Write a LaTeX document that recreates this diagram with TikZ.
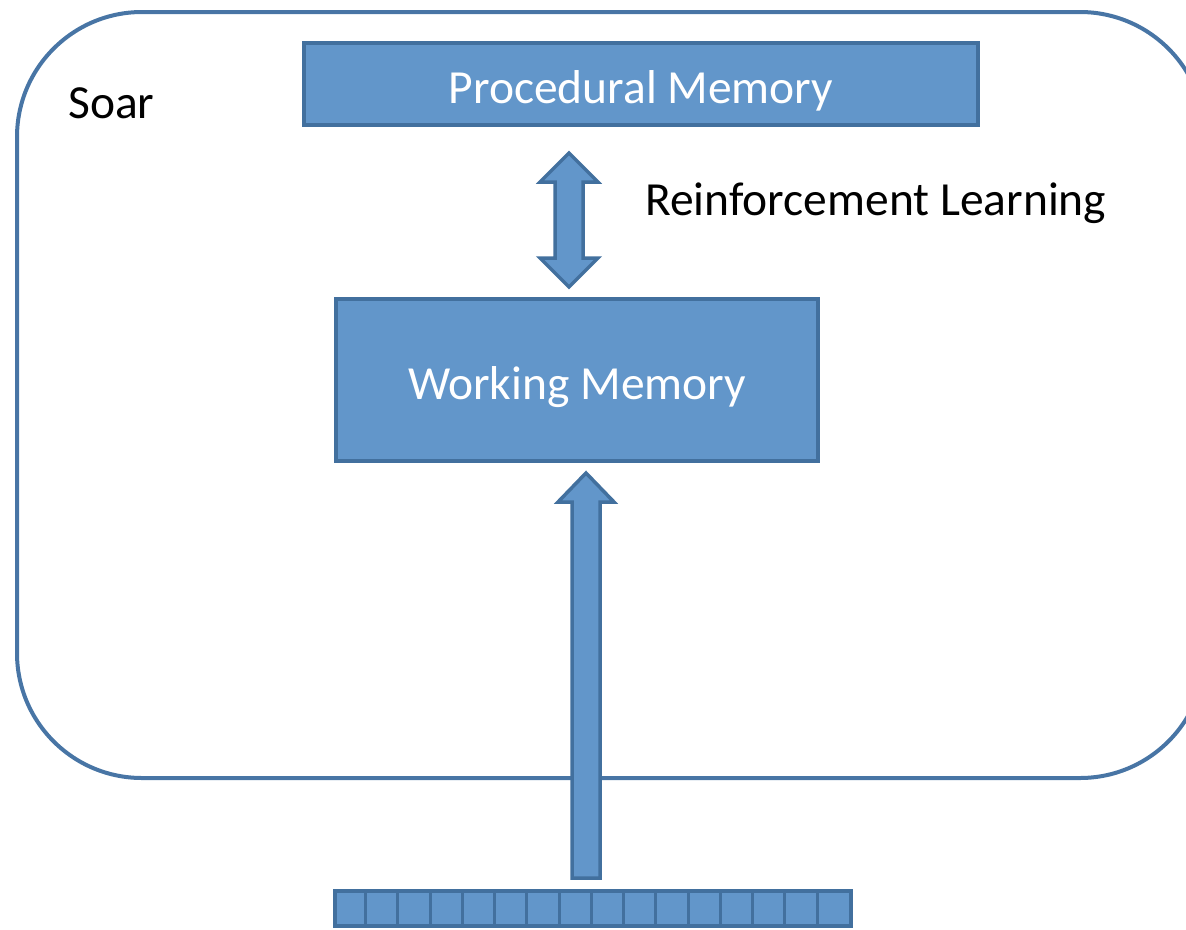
\documentclass[tikz,border=0pt]{standalone}
\usepackage{fontspec}
\setmainfont{Carlito}
\usetikzlibrary{calc}
\definecolor{boxfill}{RGB}{98,150,202}
\definecolor{boxline}{RGB}{66,112,158}
\definecolor{frameline}{RGB}{72,117,165}
\begin{document}
\begin{tikzpicture}[x=1pt,y=-1pt,
  membox/.style={draw=boxline, line width=3.5pt, fill=boxfill, text=white,
    font=\fontsize{47.5}{56}\selectfont, inner sep=0pt,
    text height=38pt, text depth=0pt},
  blockarrow/.style={draw=boxline, line width=3.5pt, fill=boxfill, line join=miter},
  plainlabel/.style={font=\fontsize{47.5}{56}\selectfont, inner sep=0pt},
  cellline/.style={boxline, line width=3pt}]
\useasboundingbox (0,0) rectangle (1186,929);

% outer system frame (runs past the right edge)
\begin{scope}
  \clip (0,0) rectangle (1186,929);
  \draw[frameline, line width=4pt, rounded corners=125pt] (17,12) rectangle (1205,778);
\end{scope}

\node[plainlabel, anchor=base west] (soar) at (68,118) {Soar};

% memories
\node[membox, minimum width=674pt, minimum height=82pt] (pm) at (641,84) {Procedural Memory};
\node[membox, minimum width=482pt, minimum height=162pt] (wm) at (577,380) {Working Memory};

% learning link between the memories
\coordinate (rltop) at (569,153);
\coordinate (rlbot) at (569,287);
\draw[blockarrow] (rltop) -- ++(29,29) -- ++(-15,0) -- ++(0,76) -- ++(15,0)
  -- (rlbot) -- ++(-29,-29) -- ++(15,0) -- ++(0,-76) -- ++(-15,0) -- cycle;
\node[plainlabel, anchor=base west] (rl) at (645,215) {Reinforcement Learning};

% perception input strip
\node[draw=boxline, fill=boxfill, line width=3.5pt, minimum width=516pt,
  minimum height=35pt, inner sep=0pt] (strip) at (593,908.5) {};
\foreach \i in {1,...,15} {
  \draw[cellline] ($(strip.north west)+(\i*32.25,0)$) -- ($(strip.south west)+(\i*32.25,0)$);
}

% input arrow into working memory
\coordinate (intip) at (586,473);
\coordinate (inbase) at (586,878);
\draw[blockarrow] (intip) -- ++(28,29) -- ++(-14,0) -- ($(inbase)+(14,0)$)
  -- ($(inbase)+(-14,0)$) -- (572,502) -- (558,502) -- cycle;
\end{tikzpicture}
\end{document}
